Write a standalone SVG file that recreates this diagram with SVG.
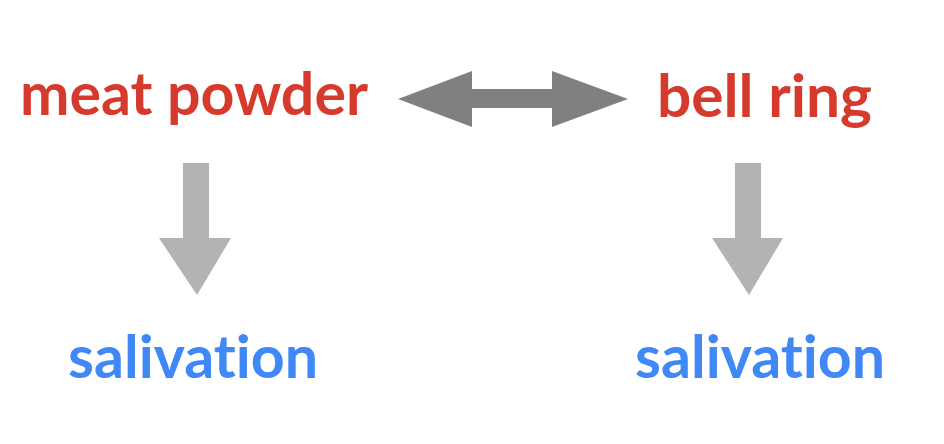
<svg xmlns="http://www.w3.org/2000/svg" width="944" height="444" viewBox="0 0 944 444">
<style>
.t{font-family:Lato,"Open Sans","Noto Sans",sans-serif;font-weight:bold;font-size:60px;font-variant-ligatures:none;font-feature-settings:"liga" 0,"clig" 0,"dlig" 0}
.red{fill:#d63a2c}
.blue{fill:#3f88f5}
.dark{fill:#808080}
.light{fill:#b3b3b3}
</style>
<rect width="944" height="444" fill="#ffffff"/>
<g id="meat-powder"><text class="t red" x="20" y="115" textLength="348" lengthAdjust="spacingAndGlyphs">meat powder</text></g>
<g id="bell-ring"><text class="t red" x="657" y="117" textLength="215" lengthAdjust="spacingAndGlyphs">bell ring</text></g>
<g id="salivation-left"><text class="t blue" x="68" y="378" textLength="250" lengthAdjust="spacingAndGlyphs">salivation</text></g>
<g id="salivation-right"><text class="t blue" x="635" y="378" textLength="250" lengthAdjust="spacingAndGlyphs">salivation</text></g>
<g id="connectors">
<polygon class="dark" points="398,99 472,71 472,89 552,89 552,71 628,99 552,127 552,108 472,108 472,127"/>
<polygon class="light" points="183,163 209,163 209,238 231,238 197,295 159,238 183,238"/>
<polygon class="light" points="735,163 761,163 761,238 783,238 749,295 712,238 735,238"/>
</g>
</svg>
